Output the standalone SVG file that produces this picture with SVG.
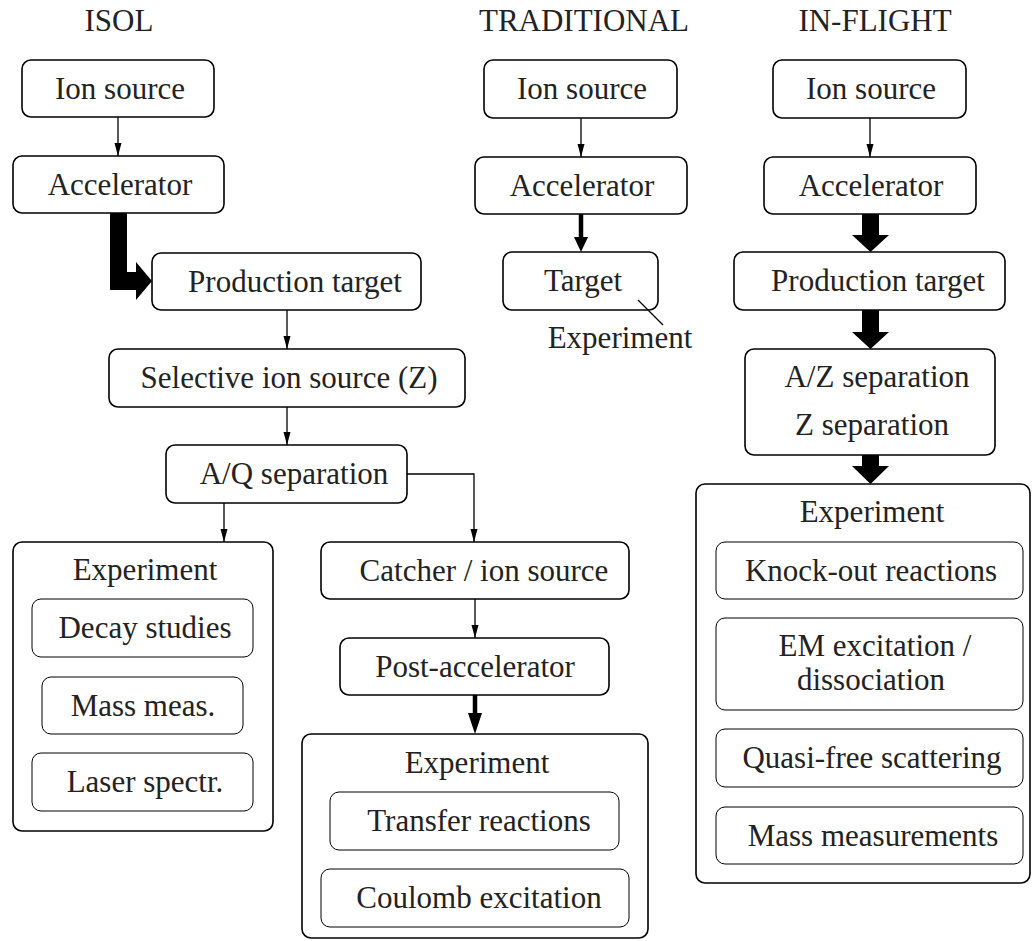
<svg xmlns="http://www.w3.org/2000/svg" width="1034" height="941" viewBox="0 0 1034 941">
<style>
.box{fill:#fff;stroke:#000;stroke-width:1.6}
.inner{fill:#fff;stroke:#000;stroke-width:1}
.t{font-family:'Liberation Serif','DejaVu Serif',serif;font-size:31px;fill:#222;text-anchor:middle}
.thin{fill:none;stroke:#000;stroke-width:1.3}
.med{fill:none;stroke:#000;stroke-width:4.5}
.blk{fill:#000;stroke:none}
</style>
<defs>
<marker id="ah" markerUnits="userSpaceOnUse" markerWidth="13" markerHeight="8" refX="13" refY="4" orient="auto">
<path d="M0,0.5 L13,4 L0,7.5 z" fill="#000"/>
</marker>
</defs>
<rect width="1034" height="941" fill="#fff"/>
<g id="titles">
<text class="t" x="119" y="31">ISOL</text>
<text class="t" x="584" y="31">TRADITIONAL</text>
<text class="t" x="875" y="31">IN-FLIGHT</text>
</g>
<g id="connectors">
<path class="thin" d="M118,117 V156" marker-end="url(#ah)"/>
<polygon class="blk" points="110,213 127,213 127,272 136,272 136,262 152,281 136,300 136,290 110,290"/>
<path class="thin" d="M287,310 V349" marker-end="url(#ah)"/>
<path class="thin" d="M287,407 V445" marker-end="url(#ah)"/>
<path class="thin" d="M224,503 V542" marker-end="url(#ah)"/>
<path class="thin" d="M407,474 H474 V542" marker-end="url(#ah)"/>
<path class="thin" d="M475,599 V638" marker-end="url(#ah)"/>
<path class="med" d="M475,695 V716"/>
<polygon class="blk" points="468,713 482,713 475,734"/>
<path class="thin" d="M581,118 V157" marker-end="url(#ah)"/>
<path class="med" d="M581,214 V240"/>
<polygon class="blk" points="574,237 588,237 581,252"/>
<path class="thin" d="M870,118 V157" marker-end="url(#ah)"/>
<polygon class="blk" points="862,214 879,214 879,235 889,235 870.5,252 852,235 862,235"/>
<polygon class="blk" points="862,310 879,310 879,332 889,332 870.5,349 852,332 862,332"/>
<polygon class="blk" points="862,455 879,455 879,466 889,466 870.5,484 852,466 862,466"/>
</g>
<g id="isol-ion-source"><rect class="box" x="22" y="60" width="192" height="57" rx="9"/><text class="t" x="120" y="99">Ion source</text></g>
<g id="isol-accelerator"><rect class="box" x="13" y="156" width="211" height="57" rx="9"/><text class="t" x="120" y="195">Accelerator</text></g>
<g id="isol-production-target"><rect class="box" x="152" y="253" width="269" height="57" rx="9"/><text class="t" x="295" y="292">Production target</text></g>
<g id="isol-selective"><rect class="box" x="109" y="349" width="356" height="58" rx="9"/><text class="t" x="289" y="388">Selective ion source (Z)</text></g>
<g id="isol-aq"><rect class="box" x="166" y="445" width="241" height="58" rx="9"/><text class="t" x="294" y="484">A/Q separation</text></g>
<g id="isol-experiment">
<rect class="box" x="13" y="542" width="260" height="289" rx="9"/>
<text class="t" x="145" y="580">Experiment</text>
<rect class="inner" x="32" y="599" width="221" height="58" rx="9"/><text class="t" x="145" y="638">Decay studies</text>
<rect class="inner" x="42" y="677" width="201" height="57" rx="9"/><text class="t" x="143" y="716">Mass meas.</text>
<rect class="inner" x="32" y="753" width="221" height="58" rx="9"/><text class="t" x="145" y="792">Laser spectr.</text>
</g>
<g id="isol-catcher"><rect class="box" x="321" y="542" width="308" height="57" rx="9"/><text class="t" x="484" y="581">Catcher / ion source</text></g>
<g id="isol-post-accelerator"><rect class="box" x="340" y="638" width="269" height="57" rx="9"/><text class="t" x="475" y="677">Post-accelerator</text></g>
<g id="isol-experiment2">
<rect class="box" x="302" y="734" width="346" height="204" rx="9"/>
<text class="t" x="477" y="773">Experiment</text>
<rect class="inner" x="330" y="792" width="289" height="58" rx="9"/><text class="t" x="479" y="831">Transfer reactions</text>
<rect class="inner" x="321" y="869" width="308" height="58" rx="9"/><text class="t" x="479" y="908">Coulomb excitation</text>
</g>
<g id="trad-ion-source"><rect class="box" x="484" y="60" width="193" height="58" rx="9"/><text class="t" x="582" y="99">Ion source</text></g>
<g id="trad-accelerator"><rect class="box" x="475" y="157" width="212" height="57" rx="9"/><text class="t" x="582" y="196">Accelerator</text></g>
<g id="trad-target"><rect class="box" x="503" y="252" width="155" height="58" rx="9"/><text class="t" x="583" y="291">Target</text></g>
<g id="trad-experiment-label"><path class="thin" d="M638,300 L663,325"/><text class="t" x="620" y="348">Experiment</text></g>
<g id="if-ion-source"><rect class="box" x="773" y="60" width="193" height="58" rx="9"/><text class="t" x="871" y="99">Ion source</text></g>
<g id="if-accelerator"><rect class="box" x="764" y="157" width="212" height="57" rx="9"/><text class="t" x="871" y="196">Accelerator</text></g>
<g id="if-production-target"><rect class="box" x="734" y="252" width="271" height="58" rx="9"/><text class="t" x="878" y="291">Production target</text></g>
<g id="if-separation"><rect class="box" x="745" y="349" width="250" height="106" rx="9"/><text class="t" x="877" y="387">A/Z separation</text><text class="t" x="872" y="435">Z separation</text></g>
<g id="if-experiment">
<rect class="box" x="696" y="484" width="334" height="399" rx="9"/>
<text class="t" x="872" y="522">Experiment</text>
<rect class="inner" x="716" y="542" width="307" height="57" rx="9"/><text class="t" x="871" y="581">Knock-out reactions</text>
<rect class="inner" x="716" y="618" width="307" height="92" rx="9"/><text class="t" x="875" y="656">EM excitation /</text><text class="t" x="871" y="690">dissociation</text>
<rect class="inner" x="716" y="729" width="307" height="58" rx="9"/><text class="t" x="872" y="768">Quasi-free scattering</text>
<rect class="inner" x="716" y="807" width="307" height="57" rx="9"/><text class="t" x="873" y="846">Mass measurements</text>
</g>
</svg>
